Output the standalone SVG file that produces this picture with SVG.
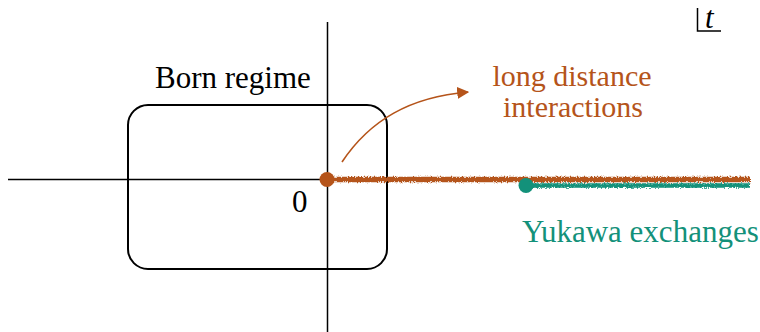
<svg xmlns="http://www.w3.org/2000/svg" width="760" height="332" viewBox="0 0 760 332">
<style>
text{font-family:'Liberation Serif','Times New Roman','DejaVu Serif',serif;font-size:31px}
.ax{stroke:#000;stroke-width:1.5;fill:none}
.org{fill:#b5541a;font-size:30px}
.grn{fill:#13917a}
</style>
<defs>
<filter id="rough" filterUnits="userSpaceOnUse" x="300" y="160" width="470" height="40">
<feTurbulence type="fractalNoise" baseFrequency="0.7" numOctaves="2" seed="3"/>
<feDisplacementMap in="SourceGraphic" scale="4"/>
</filter>
<marker id="ah" viewBox="0 0 10 10" refX="9" refY="5" markerWidth="12" markerHeight="12" markerUnits="userSpaceOnUse" orient="auto">
<path d="M0,0 L10,5 L0,10 z" fill="#b5541a"/>
</marker>
</defs>
<g id="axes">
<line class="ax" x1="8" y1="179.5" x2="750" y2="179.5"/>
<line class="ax" x1="327.5" y1="22" x2="327.5" y2="332"/>
</g>
<g id="born">
<rect x="128" y="105" width="259" height="164" rx="20" ry="20" fill="none" stroke="#000" stroke-width="2"/>
<text x="155" y="88">Born regime</text>
</g>
<g id="origin-label">
<text x="292" y="212">0</text>
</g>
<g id="t-label">
<path d="M697.5,8 V31 H721" fill="none" stroke="#000" stroke-width="1.5"/>
<text x="705" y="28" font-style="italic" font-size="27">t</text>
</g>
<g id="connectors">
<path d="M342,162 C370,120 410,97 468,92" fill="none" stroke="#b5541a" stroke-width="1.6" marker-end="url(#ah)"/>
</g>
<g id="long-distance">
<line x1="327" y1="179.5" x2="750" y2="179.5" stroke="#b5541a" stroke-width="5.5" filter="url(#rough)"/>
<circle fill="#b5541a" cx="327" cy="179.5" r="7.5"/>
<text class="org" x="572" y="86" text-anchor="middle">long distance</text>
<text class="org" x="573" y="117" text-anchor="middle">interactions</text>
</g>
<g id="yukawa">
<line x1="526" y1="185.5" x2="750" y2="185.5" stroke="#13917a" stroke-width="4.5" filter="url(#rough)"/>
<circle class="grn" cx="526" cy="185.5" r="7.5"/>
<text class="grn" x="522" y="242">Yukawa exchanges</text>
</g>
</svg>
